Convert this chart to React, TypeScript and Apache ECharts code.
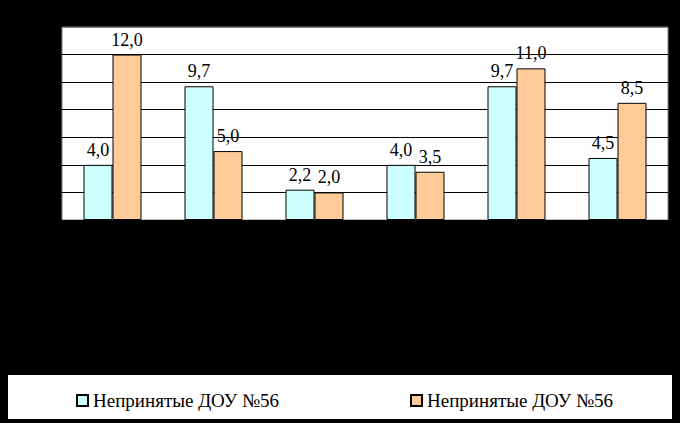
import React, { useEffect, useRef } from "react";
import * as echarts from "echarts";

const categories = ["1", "2", "3", "4", "5", "6"];
const seriesNames = ["Непринятые ДОУ №56", "Непринятые ДОУ №56 "];
const seriesA = [4.0, 9.7, 2.2, 4.0, 9.7, 4.5];
const seriesB = [12.0, 5.0, 2.0, 3.5, 11.0, 8.5];
const colors = ["#CCFFFF", "#FFCC99"];

const FONT = "'Liberation Serif', 'Times New Roman', serif";

export default function App() {
  const ref = useRef<HTMLDivElement>(null);
  useEffect(() => {
    if (!ref.current) return;
    const chart = echarts.init(ref.current, undefined, { renderer: "svg" });
    const label = {
      show: true,
      position: "top",
      distance: 6,
      color: "#000",
      fontFamily: FONT,
      fontSize: 18,
      formatter: (p: any) => p.value.toFixed(1).replace(".", ","),
    };
    const legendText = { color: "#000", fontFamily: FONT, fontSize: 19 };
    chart.setOption({
      animation: false,
      backgroundColor: "#000",
      graphic: [
        {
          type: "rect",
          shape: { x: 8, y: 375, width: 664, height: 44 },
          style: { fill: "#fff" },
          z: -1,
        },
      ],
      grid: {
        left: 62,
        right: 12,
        top: 27,
        bottom: 203,
        show: true,
        backgroundColor: "#fff",
        borderColor: "#808080",
        borderWidth: 1,
      },
      legend: [
        {
          left: 76,
          top: 391,
          padding: 0,
          itemWidth: 11,
          itemHeight: 11,
          data: [seriesNames[0]],
          formatter: (n: string) => n.trim(),
          textStyle: legendText,
          icon: "rect",
        },
        {
          left: 410,
          top: 391,
          padding: 0,
          itemWidth: 11,
          itemHeight: 11,
          data: [seriesNames[1]],
          formatter: (n: string) => n.trim(),
          textStyle: legendText,
          icon: "rect",
        },
      ],
      xAxis: {
        type: "category",
        data: categories,
        axisLine: { show: false },
        axisTick: { show: false },
        axisLabel: { show: false },
      },
      yAxis: {
        type: "value",
        min: 0,
        max: 14,
        interval: 2,
        axisLine: { show: false },
        axisTick: { show: false },
        axisLabel: { show: false },
        splitLine: {
          lineStyle: {
            color: ["#000", "#000", "#000", "#000", "#000", "#000", "#000", "#808080"],
            width: 1,
          },
        },
      },
      series: [
        {
          name: seriesNames[0],
          type: "bar",
          data: seriesA,
          barWidth: 29,
          barGap: "0%",
          itemStyle: { color: colors[0], borderColor: "#000", borderWidth: 1 },
          label,
        },
        {
          name: seriesNames[1],
          type: "bar",
          data: seriesB,
          barWidth: 29,
          barGap: "0%",
          itemStyle: { color: colors[1], borderColor: "#000", borderWidth: 1 },
          label,
        },
      ],
    });
    return () => chart.dispose();
  }, []);
  return (
    <div
      ref={ref}
      style={{ position: "absolute", left: 0, top: 0, width: 680, height: 423, background: "#000" }}
    />
  );
}
